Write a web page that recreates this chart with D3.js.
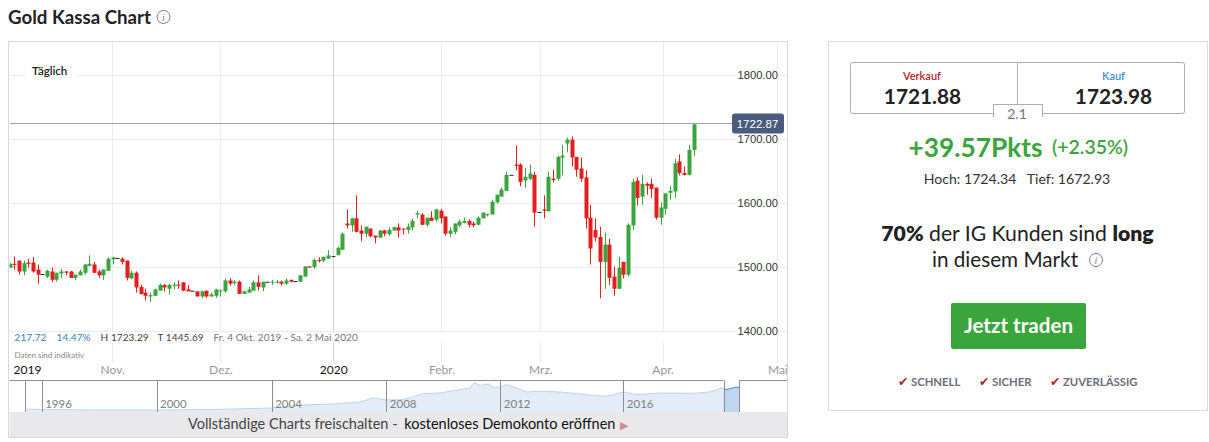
<!DOCTYPE html>
<html>
<head>
<meta charset="utf-8">
<title>Gold Kassa Chart</title>
<script src="https://cdn.jsdelivr.net/npm/d3@7"></script>
<style>
  html, body { margin: 0; background: #fff; overflow: hidden; }
  svg { display: block; font-family: Lato, "Open Sans", sans-serif; }
</style>
</head>
<body>
<div id="chart"></div>
<script>
(function() {

  'use strict';

  // Daily candles (first one is cut by the panel edge)
  var opens = [
    1499,1505,1510,1493,1507,1507,1496,1489,1485,1493,
    1480,1490,1493,1493,1483,1487,1491,1502,1504,1493,
    1487,1494,1512,1514,1513,1510,1482,1491,1469,1460,
    1454,1455,1463,1472,1466,1472,1472.5,1476,1465,1463,
    1462,1454,1463,1454,1455,1463,1462,1479,1475,1477,
    1458,1460,1463,1476,1468,1477,1476,1476,1477,1474,
    1480,1478,1477,1485,1501,1500,1511,1510,1513,1517,
    1519,1527,1568,1565,1576,1557,1552,1560,1549,1546,
    1557,1551,1557,1562,1560,1558,1562,1582,1582,1566,
    1577,1574,1588,1579,1552,1555,1565,1569,1572,1568,
    1566,1576,1581,1582,1601,1610,1619,1644,1660,1660,
    1635,1638,1644,1586,1590,1587,1638,1638,1671,1693,
    1699,1672,1654,1640,1577,1558,1547,1508,1535,1485,
    1466,1508,1488,1565,1635,1610,1630,1630,1624,1577,
    1591,1616,1618,1665,1647,1644,1683
  ];
  var highs = [
    1506,1516,1510,1510,1513,1516,1504,1489,1496,1499,
    1491,1497,1494,1494,1488,1496,1504,1518,1508,1496,
    1496,1515,1516,1514,1515,1510,1494,1493,1472,1466,
    1460,1466,1474,1473,1474,1476,1479,1476,1472,1463,
    1462,1463,1463,1460,1466,1465,1482,1483,1480,1479,
    1463,1469,1479,1487,1477,1477,1480,1480,1479,1482,
    1480,1478,1487,1501,1501,1513,1515,1516,1526,1517,
    1532,1554,1590,1577,1612,1565,1563,1560,1549,1558,
    1558,1562,1563,1568,1560,1568,1576,1588,1584,1577,
    1587,1591,1591,1579,1562,1568,1574,1577,1574,1571,
    1579,1585,1583,1605,1613,1624,1649,1644,1690,1662,
    1655,1660,1649,1586,1612,1649,1652,1674,1691,1702,
    1704,1672,1671,1651,1597,1576,1563,1554,1544,1501,
    1516,1508,1568,1638,1640,1644,1632,1638,1624,1601,
    1615,1626,1669,1676,1657,1691,1724.34
  ];
  var lows = [
    1499,1496,1488,1487,1499,1491,1474,1489,1483,1477,
    1477,1483,1487,1483,1480,1487,1488,1501,1490,1483,
    1480,1494,1504,1514,1504,1479,1482,1460,1457,1448,
    1445.69,1455,1463,1462,1457,1465,1466,1462,1462,1463,
    1454,1451,1452,1454,1452,1454,1460,1471,1472,1458,
    1458,1460,1463,1463,1462,1477,1472,1474,1471,1472,
    1476,1478,1477,1485,1499,1497,1507,1508,1513,1517,
    1518,1527,1560,1555,1554,1540,1546,1546,1537,1546,
    1548,1549,1557,1546,1551,1552,1557,1576,1565,1563,
    1572,1571,1568,1549,1547,1551,1562,1568,1562,1562,
    1565,1576,1579,1582,1599,1610,1619,1644,1651,1626,
    1624,1636,1563,1586,1576,1587,1632,1635,1643,1679,
    1657,1641,1633,1560,1504,1540,1451,1466,1472,1455,
    1466,1482,1485,1558,1596,1597,1613,1608,1574,1566,
    1582,1605,1608,1643,1643,1643,1672.93
  ];
  var closes = [
    1505,1504,1493,1506,1505,1493,1488,1489,1494,1480,
    1491,1493,1491,1483,1488,1493,1504,1505,1491,1487,
    1496,1513,1515,1514,1508,1483,1491,1468,1458,1455,
    1456,1465,1472,1468,1472,1472.5,1471,1463,1462,1463,
    1454,1462,1454,1457,1465,1463.5,1479,1474,1477,1458,
    1462,1465,1476,1469,1477,1477,1477,1477,1474,1479,
    1477,1478,1487,1501,1499,1511,1510,1516,1518,1517,
    1530,1552,1565,1576,1555,1552,1563,1548,1546,1557,
    1552,1558,1562,1557,1559,1563,1572,1584,1566,1577,
    1572,1590,1576,1552,1557,1568,1571,1572,1566,1565,
    1577,1585,1582.5,1602,1613,1621,1644,1644,1658,1633,
    1641,1646,1585,1586,1588,1641,1636,1672,1674,1699,
    1671,1652,1638,1576,1529,1546,1508,1535,1483,1466,
    1499,1488,1566,1633,1608,1630,1627,1622,1577,1593,
    1615,1619,1662,1647,1644,1683,1722.87
  ];

  var lastPrice = 1722.87;
  var priceTicks = [1400, 1500, 1600, 1700, 1800];

  // Position of each label on the candle count axis
  var monthLabels = ['2019', 'Nov.', 'Dez.', '2020', 'Febr.', 'Mrz.', 'Apr.', 'Mai'];
  var monthTicks = [4.7, 22.9, 46, 70.1, 93.2, 114.3, 140.4, 164.9];

  // Navigator: long range history
  var navYears = [1995,1996,1998,2000,2002,2004,2005,2006.1,2007.08,2007.55,2008,2008.6,2009.3,2009.88,2010.24,2010.94,2011.08,2011.29,2011.58,2011.75,2012,2012.2,2012.53,2012.86,2013.29,2013.94,2014.81,2015.46,2016,2016.46,2017.27,2018.41,2018.99,2019.39,2019.46,2019.57,2019.85,2020];
  var navPrices = [340,310,280,280,310,400,580,640,760,1000,880,898,1258,1300,1402,1600,1918,1762,1840,1642,1660,1798,1600,1360,1402,1360,1198,1102,1360,1198,1300,1282,1360,1600,1560,1498,1642,1642];
  var navYearLabels = [1996, 2000, 2004, 2008, 2012, 2016];
  var navYearStops = [1995, 1996, 2000, 2004, 2008, 2012, 2016, 2020];
  var navSelectionStart = 2019.46;

  var green = '#3aa53c';
  var red = '#e31e1e';

  var svg = d3.select('#chart').append('svg')
    .attr('width', 1209)
    .attr('height', 442);

  var x = d3.scaleLinear().domain([2, 147]).range([14.3, 693.5]);
  var y = d3.scaleLinear().domain([1400, 1800]).range([331, 75]);

  svg.append('text').attr('x', 8).attr('y', 24)
    .attr('font-size', 18.7).attr('font-weight', 700).attr('fill', '#222')
    .text('Gold Kassa Chart');
  infoIcon(163.5, 17, 6.5);

  // Chart panel
  svg.append('defs').append('clipPath').attr('id', 'panel-clip')
    .append('rect').attr('x', 9.5).attr('y', 42).attr('width', 777.5).attr('height', 395);

  var panel = svg.append('g').attr('clip-path', 'url(#panel-clip)');

  // Grid
  panel.append('g').selectAll('line').data(priceTicks).join('line')
    .attr('x1', 10).attr('x2', 787)
    .attr('y1', function(d) { return y(d) + 0.5; })
    .attr('y2', function(d) { return y(d) + 0.5; })
    .attr('stroke', '#ececec');

  panel.append('g').selectAll('line').data(monthTicks.slice(1)).join('line')
    .attr('x1', function(d) { return Math.round(x(d)) + 0.5; })
    .attr('x2', function(d) { return Math.round(x(d)) + 0.5; })
    .attr('y1', 42).attr('y2', 362)
    .attr('stroke', function(d, i) { return monthLabels[i + 1] === '2020' ? '#d4d4d4' : '#ececec'; });

  panel.append('rect').attr('x', 10).attr('y', 332).attr('width', 725).attr('height', 11).attr('fill', '#fff');

  // Candles
  var candles = panel.append('g').selectAll('g').data(d3.range(opens.length)).join('g');

  candles.append('line')
    .attr('x1', function(i) { return Math.round(x(i + 1)) + 0.5; })
    .attr('x2', function(i) { return Math.round(x(i + 1)) + 0.5; })
    .attr('y1', function(i) { return y(highs[i]); })
    .attr('y2', function(i) { return y(lows[i]); })
    .attr('stroke', candleColor);

  candles.append('rect')
    .attr('x', function(i) { return Math.round(x(i + 1)) - 1.5; })
    .attr('width', 4)
    .attr('y', function(i) { return y(Math.max(opens[i], closes[i])); })
    .attr('height', function(i) { return Math.max(1, Math.abs(y(opens[i]) - y(closes[i]))); })
    .attr('fill', candleColor);

  function candleColor(i) {
    if (opens[i] === closes[i]) { return '#222'; }
    return closes[i] > opens[i] ? green : red;
  }

  // Last price line
  panel.append('line')
    .attr('x1', 10).attr('x2', 733)
    .attr('y1', Math.floor(y(lastPrice)) - 0.5).attr('y2', Math.floor(y(lastPrice)) - 0.5)
    .attr('stroke', '#9aa2aa').attr('stroke-width', 1);

  // Price axis
  var yAxis = panel.append('g')
    .attr('transform', 'translate(778,0)')
    .call(d3.axisLeft(y).tickValues(priceTicks).tickSize(0).tickFormat(d3.format('.2f')));
  yAxis.select('.domain').remove();
  yAxis.selectAll('text')
    .attr('x', 0)
    .attr('font-family', 'Liberation Sans, Arial, sans-serif')
    .attr('font-size', 11.2).attr('fill', '#333')
    .attr('stroke', '#fff').attr('stroke-width', 4).attr('paint-order', 'stroke');

  panel.append('rect').attr('x', 732).attr('y', 113.5).attr('width', 52).attr('height', 20)
    .attr('rx', 3).attr('fill', '#4a5b7c');
  panel.append('text').attr('x', 757.5).attr('y', 128)
    .attr('text-anchor', 'middle').attr('font-size', 11.5).attr('fill', '#fff')
    .attr('font-family', 'Liberation Sans, Arial, sans-serif')
    .text(d3.format('.2f')(lastPrice));

  // Tag on the top left
  panel.append('rect').attr('x', 25).attr('y', 65).attr('width', 51).attr('height', 14).attr('fill', '#fff');
  panel.append('text').attr('x', 32).attr('y', 75)
    .attr('font-size', 11.5).attr('font-weight', 600).attr('fill', '#222')
    .text('Täglich');

  // Stats strip
  var stats = [
    { x: 14.5, t: '217.72', c: '#3b7fc0' },
    { x: 56.5, t: '14.47%', c: '#3b7fc0' },
    { x: 100.5, t: 'H 1723.29', c: '#444' },
    { x: 157.5, t: 'T 1445.69', c: '#444' },
    { x: 213.5, t: 'Fr. 4 Okt. 2019 - Sa. 2 Mai 2020', c: '#777' }
  ];
  panel.append('g').selectAll('text').data(stats).join('text')
    .attr('x', function(d) { return d.x; }).attr('y', 341)
    .attr('font-size', 10).attr('letter-spacing', 0.1)
    .attr('fill', function(d) { return d.c; })
    .text(function(d) { return d.t; });
  panel.append('text').attr('x', 14.5).attr('y', 358)
    .attr('font-size', 8).attr('fill', '#888').text('Daten sind indikativ');

  // Month axis
  var xAxis = panel.append('g')
    .attr('transform', 'translate(0,362)')
    .call(d3.axisBottom(x).tickValues(monthTicks).tickSize(0)
      .tickFormat(function(d, i) { return monthLabels[i]; }));
  xAxis.select('.domain').remove();
  xAxis.selectAll('text')
    .attr('y', 3)
    .attr('font-size', 12)
    .attr('font-family', 'Lato, sans-serif')
    .attr('fill', function(d, i) { return i === 0 || i === 3 ? '#111' : '#999'; });

  // Navigator
  var navX = d3.scaleLinear()
    .domain(navYearStops)
    .range([25.3, 41.7, 156.5, 271.7, 386.3, 500.3, 623.3, 739.3]);
  var navY = d3.scaleLinear().domain([400, 1900]).range([408, 383]);
  var navPoints = navYears.map(function(yr, i) { return [yr, navPrices[i]]; });

  var navArea = d3.area()
    .x(function(d) { return navX(d[0]); })
    .y0(412).y1(function(d) { return navY(d[1]); });
  var navLine = d3.line()
    .x(function(d) { return navX(d[0]); })
    .y(function(d) { return navY(d[1]); });

  panel.append('path').datum(navPoints)
    .attr('d', navArea).attr('fill', '#e4edf7');
  panel.append('path').datum(navPoints)
    .attr('d', navLine).attr('fill', 'none').attr('stroke', '#bcd5ec');

  var selPoints = navPoints.filter(function(d) { return d[0] >= navSelectionStart; });
  panel.append('path').datum(selPoints)
    .attr('d', navArea).attr('fill', '#bfd6ee');
  panel.append('path').datum(selPoints)
    .attr('d', navLine).attr('fill', 'none').attr('stroke', '#4a90d0');

  var navRule = '#8d8d9f';
  panel.append('g').selectAll('line').data(navYearStops.slice(0, -1).concat([navSelectionStart, 2020])).join('line')
    .attr('x1', function(d) { return Math.round(navX(d)) + 0.5; })
    .attr('x2', function(d) { return Math.round(navX(d)) + 0.5; })
    .attr('y1', 380.5).attr('y2', 412)
    .attr('stroke', navRule);
  panel.append('line').attr('x1', 9).attr('x2', navX(navSelectionStart)).attr('y1', 380.5).attr('y2', 380.5).attr('stroke', navRule);
  panel.append('line').attr('x1', navX(2020)).attr('x2', 787).attr('y1', 380.5).attr('y2', 380.5).attr('stroke', navRule);

  panel.append('g').selectAll('text').data(navYearLabels).join('text')
    .attr('x', function(d) { return navX(d) + 3.5; }).attr('y', 408)
    .attr('font-size', 11.5).attr('fill', '#808080')
    .text(function(d) { return d; });

  // Banner under the navigator
  panel.append('rect').attr('x', 9).attr('y', 412).attr('width', 778).attr('height', 26).attr('fill', '#e9e9eb');
  var banner = panel.append('text').attr('x', 188).attr('y', 429).attr('font-size', 14.5).attr('fill', '#444');
  banner.append('tspan').text('Vollständige Charts freischalten - ');
  banner.append('tspan').attr('dx', 3).attr('fill', '#111').text('kostenloses Demokonto eröffnen');
  panel.append('text').attr('x', 620).attr('y', 428.5).attr('font-size', 11).attr('fill', '#d08a90')
    .attr('font-family', 'DejaVu Sans').text('▶');

  svg.append('rect').attr('x', 8.5).attr('y', 41.5).attr('width', 779).attr('height', 396)
    .attr('fill', 'none').attr('stroke', '#d9d9d9');

  // Side panel
  svg.append('rect').attr('x', 828.5).attr('y', 41.5).attr('width', 379).attr('height', 369)
    .attr('fill', '#fff').attr('stroke', '#dcdcdc');
  svg.append('rect').attr('x', 850.5).attr('y', 62.5).attr('width', 334).attr('height', 51)
    .attr('rx', 2).attr('fill', '#fff').attr('stroke', '#aeaeba');
  svg.append('line').attr('x1', 1017.5).attr('x2', 1017.5).attr('y1', 63).attr('y2', 104).attr('stroke', '#aeaeba');
  svg.append('rect').attr('x', 993.5).attr('y', 104.5).attr('width', 49).attr('height', 12)
    .attr('fill', '#fff').attr('stroke', '#aeaeba');
  svg.append('rect').attr('x', 994).attr('y', 112).attr('width', 48).attr('height', 8).attr('fill', '#fff');

  function sideText(cx, yPos, size, weight, color, text) {
    return svg.append('text').attr('x', cx).attr('y', yPos)
      .attr('text-anchor', 'middle').attr('font-size', size)
      .attr('font-weight', weight).attr('fill', color).text(text);
  }

  sideText(922, 80, 11, 600, '#b5262c', 'Verkauf');
  sideText(1113.5, 80, 11, 600, '#4a90d0', 'Kauf');
  sideText(922.5, 103.5, 20.8, 700, '#222', '1721.88');
  sideText(1113.5, 103.5, 20.8, 700, '#222', '1723.98');
  sideText(1017, 119, 14, 400, '#777', '2.1');
  sideText(975.5, 157, 26.3, 700, green, '+39.57Pkts');
  sideText(1090, 154, 19.5, 600, green, '(+2.35%)');
  sideText(1017, 184, 14.1, 400, '#333', 'Hoch: 1724.34   Tief: 1672.93').attr('xml:space', 'preserve');

  var longLine = sideText(1017.5, 241, 21.2, 400, '#222', null);
  longLine.append('tspan').attr('font-weight', 800).text('70%');
  longLine.append('tspan').text(' der IG Kunden sind ');
  longLine.append('tspan').attr('font-weight', 800).text('long');
  sideText(1005, 267, 20.7, 400, '#222', 'in diesem Markt');
  infoIcon(1096, 260, 6.5);

  svg.append('rect').attr('x', 951).attr('y', 303).attr('width', 135).attr('height', 46)
    .attr('rx', 2).attr('fill', green);
  sideText(1018.5, 333, 20.6, 700, '#fff', 'Jetzt traden');

  var perks = [
    { x: 898, t: 'SCHNELL' },
    { x: 979, t: 'SICHER' },
    { x: 1050, t: 'ZUVERLÄSSIG' }
  ];
  var perk = svg.append('g').selectAll('g').data(perks).join('g');
  perk.append('text')
    .attr('x', function(d) { return d.x; }).attr('y', 386)
    .attr('font-family', 'DejaVu Sans').attr('font-size', 12.5).attr('fill', '#b01e2e')
    .text('✔');
  perk.append('text')
    .attr('x', function(d) { return d.x + 13; }).attr('y', 386)
    .attr('font-size', 11.3).attr('font-weight', 700).attr('fill', '#6e6e80')
    .text(function(d) { return d.t; });

  function infoIcon(cx, cy, r) {
    svg.append('circle').attr('cx', cx).attr('cy', cy).attr('r', r)
      .attr('fill', 'none').attr('stroke', '#7d7d8a').attr('stroke-width', 1);
    svg.append('text').attr('x', cx).attr('y', cy + 3.5)
      .attr('text-anchor', 'middle').attr('font-size', 10).attr('font-style', 'italic')
      .attr('font-family', 'Liberation Serif, serif').attr('fill', '#7d7d8a').text('i');
  }

}());
</script>
</body>
</html>
